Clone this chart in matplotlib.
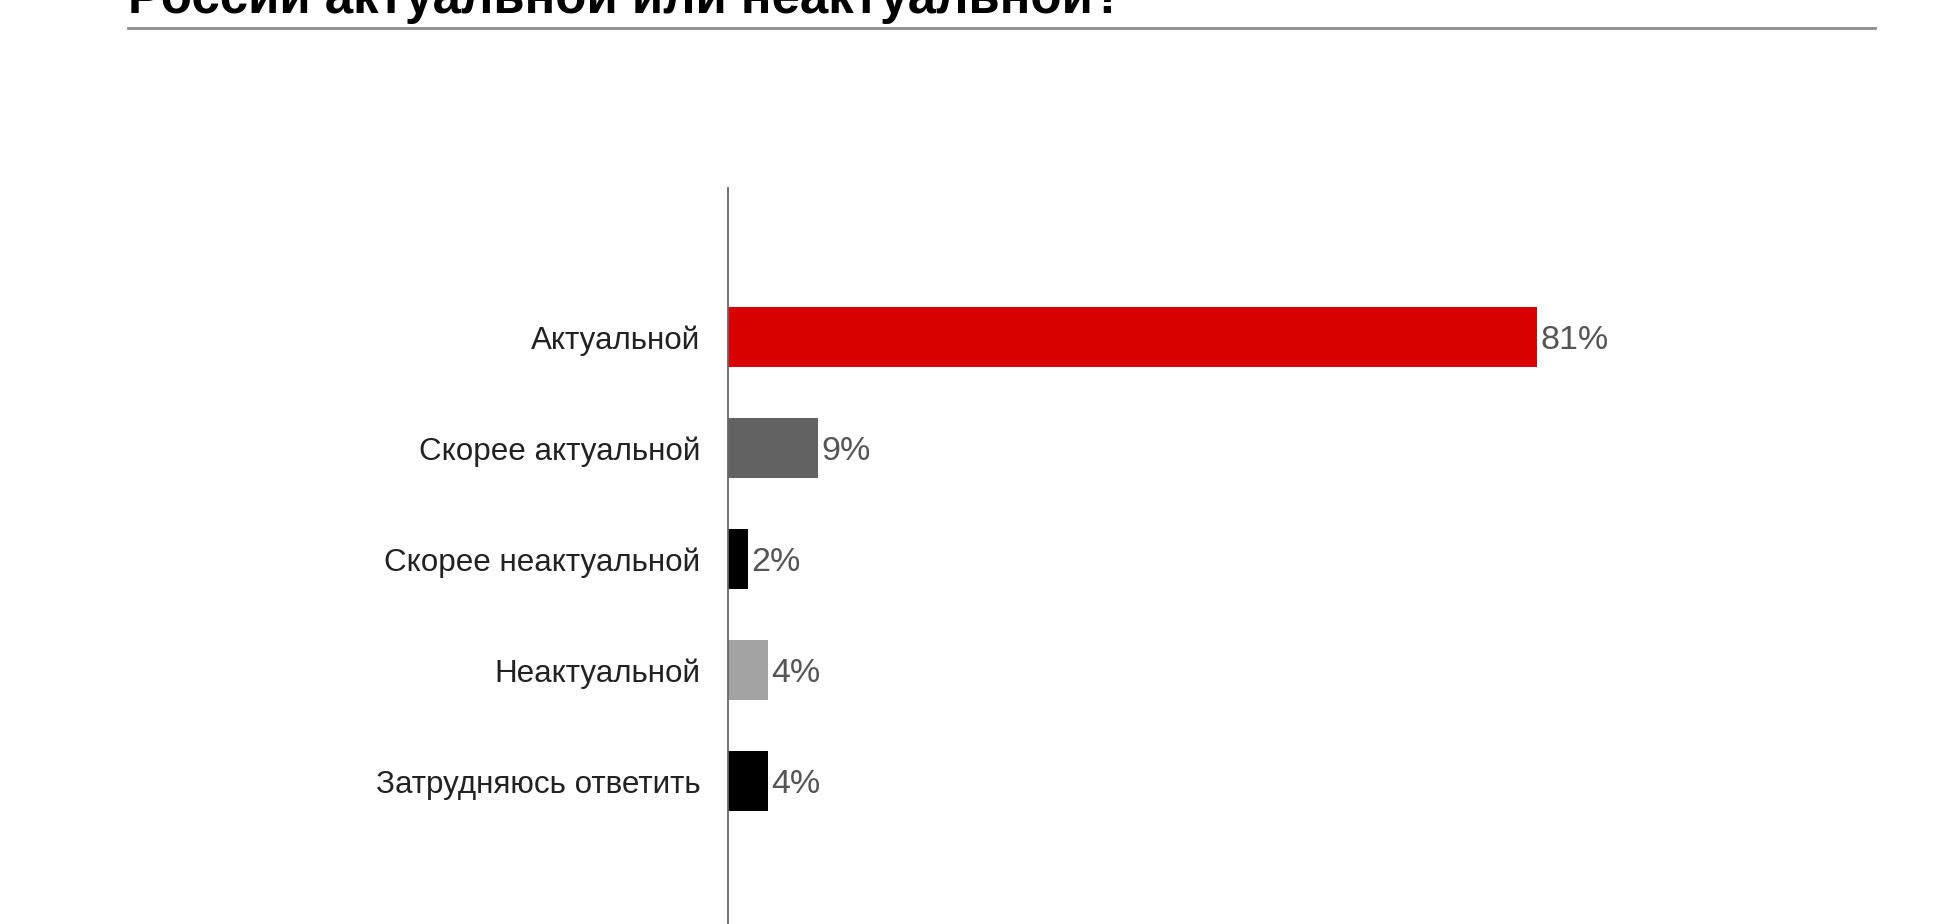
import matplotlib
matplotlib.use("Agg")
from matplotlib import pyplot as plt
from matplotlib.lines import Line2D

# Survey answers and shares (%)
answers = ["Актуальной", "Скорее актуальной", "Скорее неактуальной",
           "Неактуальной", "Затрудняюсь ответить"]
shares = [81, 9, 2, 4, 4]
bar_colors = ["#d90000", "#626262", "#000000", "#a3a3a3", "#000000"]
title = "России актуальной или неактуальной?"

W, H = 1944, 924
fig = plt.figure(figsize=(W / 100, H / 100), dpi=100)
plt.rcParams['font.family'] = ['Liberation Sans', 'DejaVu Sans']

# axes placed so the bars sit where they are in the picture
ax = fig.add_axes([728 / W, 0, (1875 - 728) / W, 1 - 188 / H])
pos = list(range(len(answers)))
ax.barh(pos, shares, height=0.54, color=bar_colors)
ax.set_xlim(0, 114.8)
ax.set_ylim(5.288, -1.342)

for p, v in zip(pos, shares):
    ax.text(v + 0.35, p, "{}%".format(v), va="center_baseline", ha="left",
            fontsize=24.5, color="#555555")

ax.set_yticks(pos)
ax.set_yticklabels(answers, fontsize=22.6, color="#222222")
ax.tick_params(axis="y", length=0, pad=20)
ax.set_xticks([])
for s in ["top", "right", "bottom"]:
    ax.spines[s].set_visible(False)
ax.spines["left"].set_color("#666666")
ax.spines["left"].set_linewidth(1.3)

# title cut off at the top, with the grey rule below it
fig.text(128 / W, 1 - 13 / H, title, va="baseline", ha="left",
         fontsize=36.7, fontweight="bold", color="#000000")
fig.add_artist(Line2D([128 / W, 1875 / W], [1 - 28 / H, 1 - 28 / H],
                      color="#8c8c8c", linewidth=2.0))

fig.savefig("out.png", dpi=100)
